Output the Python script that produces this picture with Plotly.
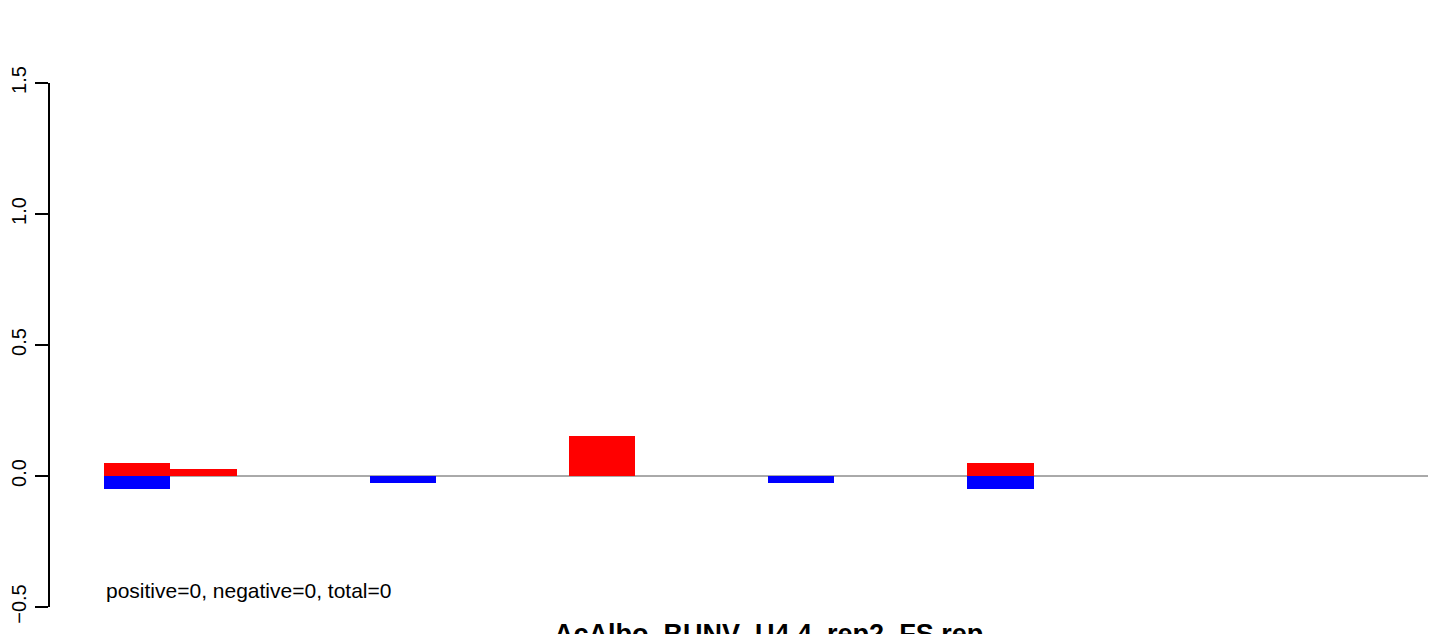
import plotly.graph_objects as go

# bin index (20 bins, each one unit wide)
bins = list(range(20))
positive = [0.05, 0.025, 0, 0, 0, 0, 0, 0.153, 0, 0, 0, 0, 0, 0.05, 0, 0, 0, 0, 0, 0]
negative = [-0.05, 0, 0, 0, -0.025, 0, 0, 0, 0, 0, -0.025, 0, 0, -0.05, 0, 0, 0, 0, 0, 0]
ytick_vals = [-0.5, 0.0, 0.5, 1.0, 1.5]
ytick_text = ["\u22120.5", "0.0", "0.5", "1.0", "1.5"]
title_text = "AcAlbo_BUNV_U4.4_rep2_FS.rep"
summary_text = "positive=0, negative=0, total=0"

xc = [b + 0.5 for b in bins]

fig = go.Figure()
fig.add_trace(go.Bar(x=xc, y=positive, width=1, marker=dict(color="#FF0000", line=dict(width=0)), showlegend=False))
fig.add_trace(go.Bar(x=xc, y=negative, width=1, marker=dict(color="#0000FF", line=dict(width=0)), showlegend=False))

fig.add_shape(type="line", xref="x", yref="y", x0=0, x1=len(bins), y0=0, y1=0,
              line=dict(color="#555555", width=1), layer="below")

# page has an 8px body margin; figure coordinates = viewport - 8
OFF = 8
W, H = 1436 - OFF, 634 - OFF
ml, mr, mt, mb = 50 - OFF, 0, 83 - OFF, 634 - 607
px_per_unit = (1432 - 104) / 20.0
x0_px = 104 - OFF
x_left = -(x0_px - ml) / px_per_unit
x_right = (W - x0_px) / px_per_unit
plot_bottom = H - mb
plot_h = H - mt - mb

FONT = "Liberation Sans, Arial, Helvetica, sans-serif"

fig.add_annotation(x=0, xref="x", y=(plot_bottom - (590 - OFF)) / plot_h, yref="paper", text=summary_text,
                   showarrow=False, xanchor="left", yanchor="middle",
                   font=dict(family=FONT, size=21, color="black"))
fig.add_annotation(x=len(bins) / 2, xref="x", y=(plot_bottom - (617 - OFF)) / plot_h, yref="paper",
                   text="<b>" + title_text + "</b>",
                   showarrow=False, xanchor="center", yanchor="top",
                   font=dict(family=FONT, size=27, color="black"))

fig.update_layout(
    width=W, height=H,
    margin=dict(l=ml, r=mr, t=mt, b=mb, pad=0, autoexpand=False),
    paper_bgcolor="white", plot_bgcolor="white",
    barmode="relative", bargap=0,
    font=dict(family=FONT, color="black"),
    xaxis=dict(range=[x_left, x_right], visible=False, showgrid=False, zeroline=False, automargin=False),
    yaxis=dict(range=[-0.5, 1.5], showgrid=False, zeroline=False, showline=True, automargin=False,
               linecolor="black", linewidth=1.5, ticks="outside", ticklen=13, tickwidth=1.5,
               tickcolor="black", tickvals=ytick_vals, ticktext=ytick_text, tickangle=-90,
               tickfont=dict(size=20, family=FONT, color="black"),
               ticklabelstandoff=1),
)

fig.write_html("out.html")
